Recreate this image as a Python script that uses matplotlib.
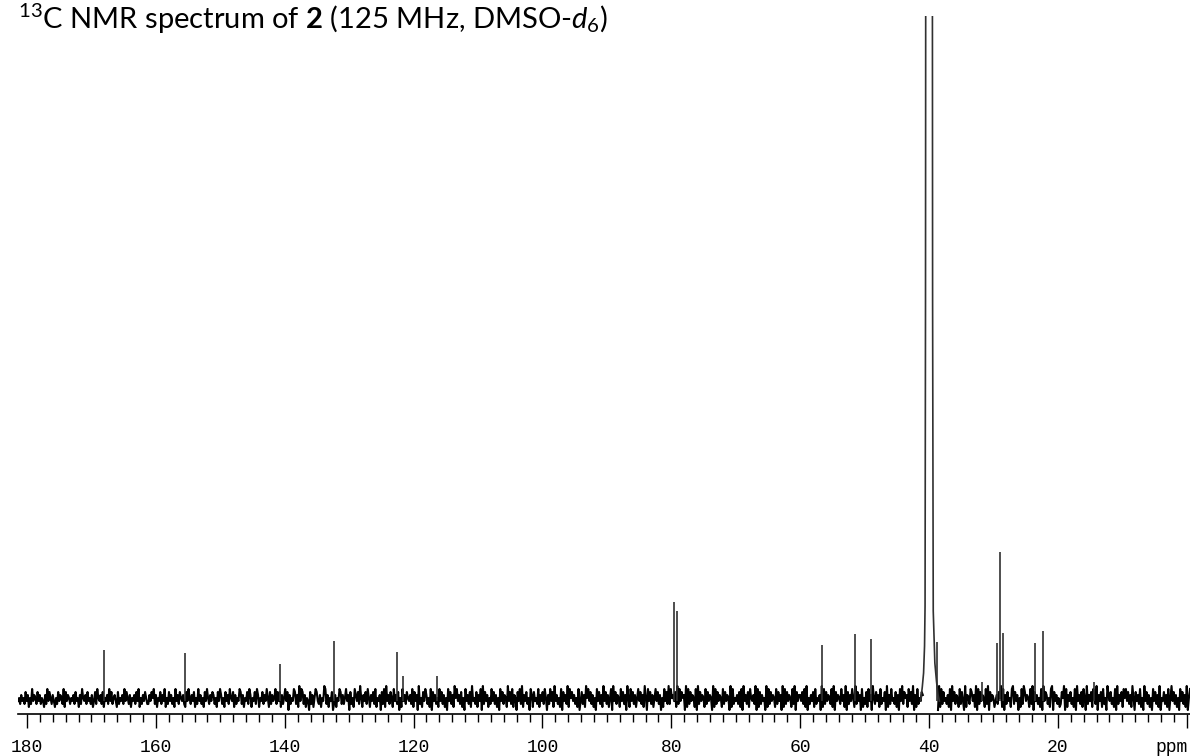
import numpy as np
import matplotlib
matplotlib.use("Agg")
import matplotlib.pyplot as plt

plt.rcParams['mathtext.fontset'] = 'custom'
plt.rcParams['mathtext.rm'] = 'Lato'
plt.rcParams['mathtext.it'] = 'Lato:italic'
plt.rcParams['mathtext.bf'] = 'Lato:bold'

title = r"$^{13}$C NMR spectrum of $\mathbf{2}$ (125 MHz, DMSO-$\mathit{d}_{6}$)"

# sharp signals: shift (ppm) and height above baseline
peak_ppm = [168.05, 155.48, 140.73, 132.35, 122.57, 121.64, 116.37,
            79.58, 79.12, 56.66, 51.49, 49.05, 38.72,
            31.73, 29.45, 28.94, 28.47, 23.60, 22.35, 14.40]
peak_height = [51, 48, 37, 60, 49, 25, 25,
               99, 90, 56, 67, 62, 59,
               19, 58, 149, 68, 58, 70, 19]

# DMSO-d6 solvent multiplet (off scale)
dmso_ppm = [41.30, 41.05, 40.85, 40.70, 40.62, 40.55, 40.50,
            39.50, 39.45, 39.35, 39.10, 38.85, 38.75, 38.60, 38.40]
dmso_height = [0, 14, 28, 55, 95, 400, 900,
               900, 400, 90, 38, 20, 14, 6, 0]

# baseline noise, one digit per data point (0-9)
noise_rows = [
    "453645374625384653746354263847536425374653827465354637452638",
    "546374536247385463725463847356427354638475362546374825364753",
    "364758362547364825374635284637546327485364725384635274853647",
    "635274863527463854726354873625473862547386254736485273645837",
    "472635847163548736294873625417362587436254983625471362548736",
    "358461735286473952647385264738254617382946375284637152846375",
    "463827461935274863528174635284736251847362958463725184637294",
    "537264819374625384736251847365294738265174839264735186274538",
    "264738516384729463528174639285746352814736295847362518473629",
    "473625819473652847361952847362584736295184736258473615284739",
    "385647293847561928374652819374652837465192837465283746519283",
    "546372819463728546391827364519283746528374619283746528391746",
    "647382915364728354619283746538291746538462917364852937461825",
    "372846195374628354719263845372618493756284739162835476291835",
    "528374619283745362819473652837419265387462918374652839174652",
    "463759281637452893746152839746528391746352819476352891746352",
    "375918264735281946372851936472853916472835196473528193647285",
    "847362951746382519473625184736291547362815947362518473629158",
]

major_ticks = [180, 160, 140, 120, 100, 80, 60, 40, 20, 0]
major_labels = ["180", "160", "140", "120", "100", "80", "60", "40", "20", ""]

noise = np.array([int(c) for c in "".join(noise_rows)], dtype=float)
noise = (noise - 4) * 3.0
ppm = np.linspace(181.4, -0.5, len(noise))
noise[(ppm < 40.95) & (ppm > 38.65)] = np.nan

fig = plt.figure(figsize=(11.9, 7.56), dpi=100)
ax = fig.add_axes([18 / 1190, 42 / 756, 1172 / 1190, 698 / 756])

ax.plot(ppm, noise, color='black', lw=1.5)
ax.vlines(peak_ppm, 0, peak_height, color='#303030', lw=1.2)
ax.plot(dmso_ppm, dmso_height, color='#303030', lw=1.2)

ax.set_xlim(181.4, -0.5)
ax.set_ylim(-13, 685)

for s in ['top', 'left', 'right']:
    ax.spines[s].set_visible(False)
ax.spines['bottom'].set_linewidth(1.2)
ax.set_yticks([])
ax.set_xticks(major_ticks)
ax.set_xticklabels(major_labels, family='Liberation Mono', fontsize=13)
ax.set_xticks(np.arange(0, 182, 2), minor=True)
ax.tick_params(axis='x', which='major', direction='out', length=10, width=1, pad=8)
ax.tick_params(axis='x', which='minor', direction='out', length=5.5, width=1)

ax.annotate("ppm", xy=(0.984, 0), xycoords='axes fraction',
            xytext=(0, -18), textcoords='offset points',
            ha='center', va='top', family='Liberation Mono', fontsize=13)

fig.text(18 / 1190, 1 - 2 / 756, title, fontsize=21, family='Lato',
         ha='left', va='top')

fig.savefig("out.png", dpi=100, facecolor='white')
